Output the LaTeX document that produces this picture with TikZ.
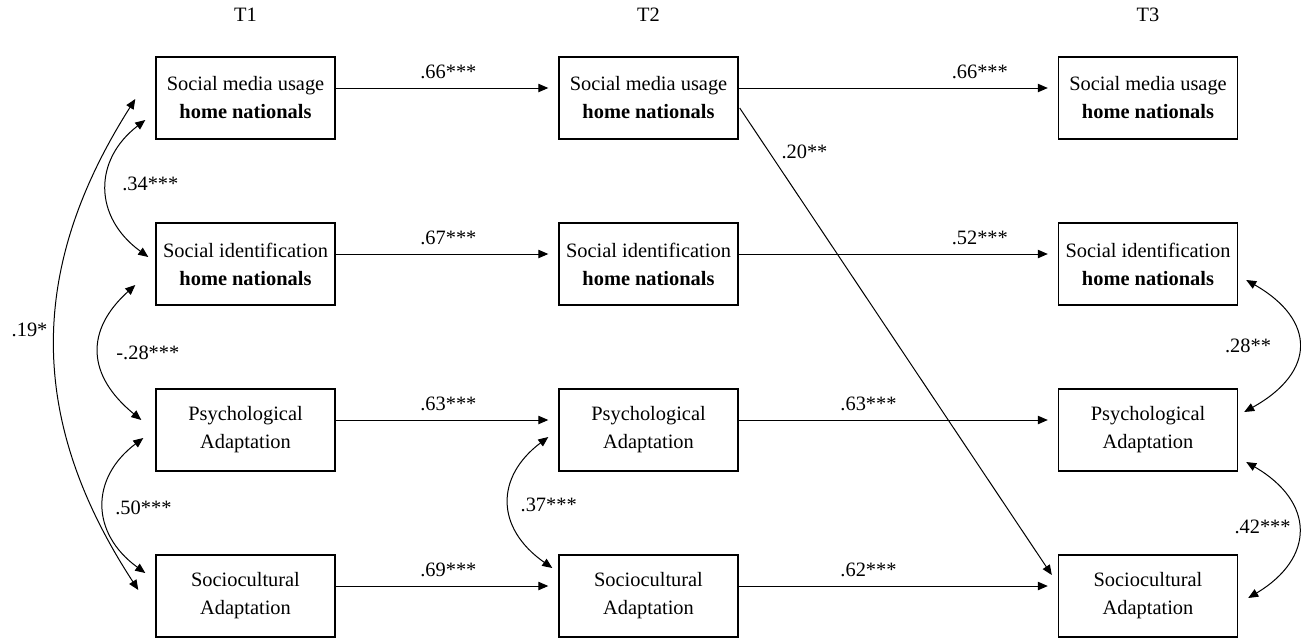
\documentclass[tikz,border=0pt]{standalone}
\usepackage{fontspec}
\setmainfont{Liberation Serif}
\usetikzlibrary{arrows.meta}
\tikzset{
 box/.style={draw,line width=.7pt,minimum width=89.5pt,minimum height=41pt,align=center,inner sep=0pt},
 coef/.style={inner sep=1pt},
 arr/.style={-{Triangle[length=5pt,width=4.2pt]}},
 cov/.style={{Triangle[length=5pt,width=4.2pt]}-{Triangle[length=5pt,width=4.2pt]}},
}
\begin{document}
\begin{tikzpicture}[x=.5pt,y=-.5pt,line width=.5pt,font=\fontsize{10.2}{14}\selectfont]
 \useasboundingbox (0,0) rectangle (1301,638);
 % the three waves
 \foreach \c/\x in {1/245.5,2/648.5,3/1148}{
  \node (t\c) at (\x,15) {T\c};
  \node[box] (smu\c) at (\x,98) {Social media usage\\\textbf{home nationals}};
  \node[box] (sid\c) at (\x,264) {Social identification\\\textbf{home nationals}};
  \node[box] (psy\c) at (\x,430) {Psychological\\Adaptation};
  \node[box] (soc\c) at (\x,596) {Sociocultural\\Adaptation};
 }
 % stability paths
 \foreach \v/\a/\b/\p in {smu/.66/.66/.78,sid/.67/.52/.78,psy/.63/.63/.42,soc/.69/.62/.42}{
  \draw[arr] ([shift={(0,-10)}]\v1.east) -- ([shift={(-10,-10)}]\v2.west) node[coef,pos=.53,above=3.5pt] {\a***};
  \draw[arr] ([shift={(0,-10)}]\v2.east) -- ([shift={(-10,-10)}]\v3.west) node[coef,pos=\p,above=3.5pt] {\b***};
 }
 \draw[arr] ([shift={(1,10)}]smu2.east) -- ([shift={(-6,-21)}]soc3.west) node[coef,pos=.094,right=5pt] {.20**};
 % correlations
 \draw[cov] ([shift={(-10,22)}]smu1.west) .. controls +(-52,40) and +(-55,-40) .. ([shift={(-7,-7)}]sid1.west) node[coef,pos=.47,right=6.5pt] {.34***};
 \draw[cov] ([shift={(-20,1)}]smu1.west) .. controls +(-108,170) and +(-111,-170) .. ([shift={(-17,-6)}]soc1.west) node[coef,pos=.47,left=2.5pt] {.19*};
 \draw[cov] ([shift={(-20,21)}]sid1.west) .. controls +(-50,45) and +(-55,-45) .. ([shift={(-14,-10)}]psy1.west) node[coef,pos=.5,right=7.5pt] {-.28***};
 \draw[cov] ([shift={(-12,8)}]psy1.west) .. controls +(-53,40) and +(-55,-40) .. ([shift={(-10,-23)}]soc1.west) node[coef,pos=.52,right=4.5pt] {.50***};
 \draw[cov] ([shift={(-10,7)}]psy2.west) .. controls +(-53,40) and +(-57,-40) .. ([shift={(-6,-28)}]soc2.west) node[coef,pos=.52,right=4.5pt] {.37***};
 \draw[cov] ([shift={(8,16)}]sid3.east) .. controls +(70,40) and +(72,-40) .. ([shift={(6,-18)}]psy3.east) node[coef,pos=.5,left=12.5pt] {.28**};
 \draw[cov] ([shift={(8,32)}]psy3.east) .. controls +(69,40) and +(67,-40) .. ([shift={(10,2)}]soc3.east) node[coef,pos=.48,left=2.5pt] {.42***};
\end{tikzpicture}
\end{document}
